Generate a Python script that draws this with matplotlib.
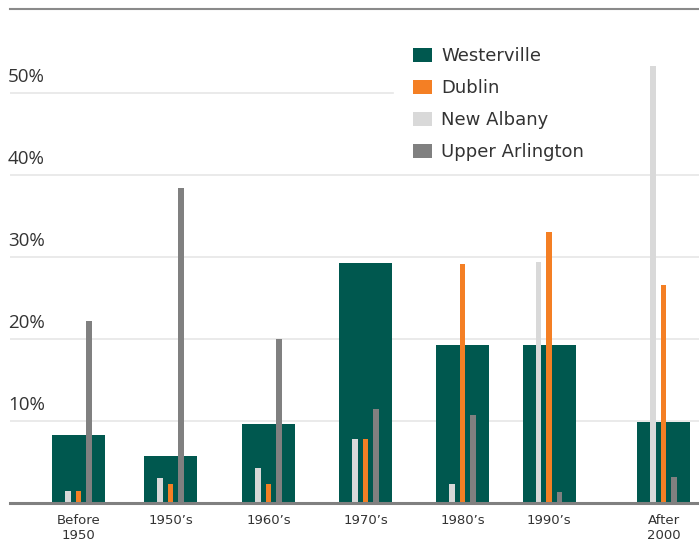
import matplotlib.pyplot as plt

categories = ["Before\n1950", "1950\u2019s", "1960\u2019s", "1970\u2019s", "1980\u2019s", "1990\u2019s", "After\n2000"]
westerville = [8.3, 5.7, 9.6, 29.3, 19.3, 19.3, 9.9]
dublin = [1.5, 2.3, 2.3, 7.8, 29.1, 33.0, 26.6]
new_albany = [1.5, 3.0, 4.3, 7.8, 2.3, 29.4, 53.3]
upper_arlington = [22.2, 38.4, 20.0, 11.5, 10.7, 1.3, 3.2]
y_ticks = [10, 20, 30, 40, 50]

# group centres are not evenly spaced in the original
pos = [0, 0.944, 1.949, 2.944, 3.938, 4.826, 6.0]

c_west = "#00584f"
c_dub = "#f47f24"
c_na = "#d9d9d9"
c_ua = "#808080"

fig = plt.figure(figsize=(6.99, 5.43), dpi=100)
ax = fig.add_axes([10 / 699, 40 / 543, 689 / 699, 494 / 543])

wide = 0.544
thin = 0.056
off = 0.108

ax.bar(pos, westerville, width=wide, color=c_west, label="Westerville", zorder=3)
ax.bar(pos, dublin, width=thin, color=c_dub, label="Dublin", zorder=4)
ax.bar([p - off for p in pos], new_albany, width=thin, color=c_na, label="New Albany", zorder=4)
ax.bar([p + off for p in pos], upper_arlington, width=thin, color=c_ua, label="Upper Arlington", zorder=4)

ax.set_xlim(-0.703, 6.364)
ax.set_ylim(0, 60.2)

# gridlines; the top one is hidden behind the legend on the right
for v in y_ticks:
    xmax = (393 - 10) / 689 if v == 50 else 1
    ax.axhline(v, xmin=0, xmax=xmax, color="#e6e6e6", lw=1.2, zorder=1)
    ax.text(-0.003, v + 0.8, f"{v}%", transform=ax.get_yaxis_transform(),
            ha="left", va="bottom", fontsize=13.5, family="Open Sans", color="#333333")

ax.set_yticks([])
ax.set_xticks(pos, categories)
ax.tick_params(axis="x", length=0, pad=8, labelsize=9.5, labelcolor="#333333")
for t in ax.get_xticklabels():
    t.set_linespacing(1.15)

for s in ["left", "right"]:
    ax.spines[s].set_visible(False)
ax.spines["bottom"].set_color("#808080")
ax.spines["bottom"].set_linewidth(2.2)
ax.spines["bottom"].set_zorder(5)
ax.spines["top"].set_color("#8a8a8a")
ax.spines["top"].set_linewidth(1.5)

leg = ax.legend(loc="upper left", bbox_to_anchor=(413 / 699, 1 - 47 / 543),
                bbox_transform=fig.transFigure, frameon=False, fontsize=13,
                handlelength=1.05, handleheight=0.85, handletextpad=0.5,
                labelspacing=0.78, borderpad=0, borderaxespad=0,
                labelcolor="#333333")

fig.savefig("out.png", dpi=100)
